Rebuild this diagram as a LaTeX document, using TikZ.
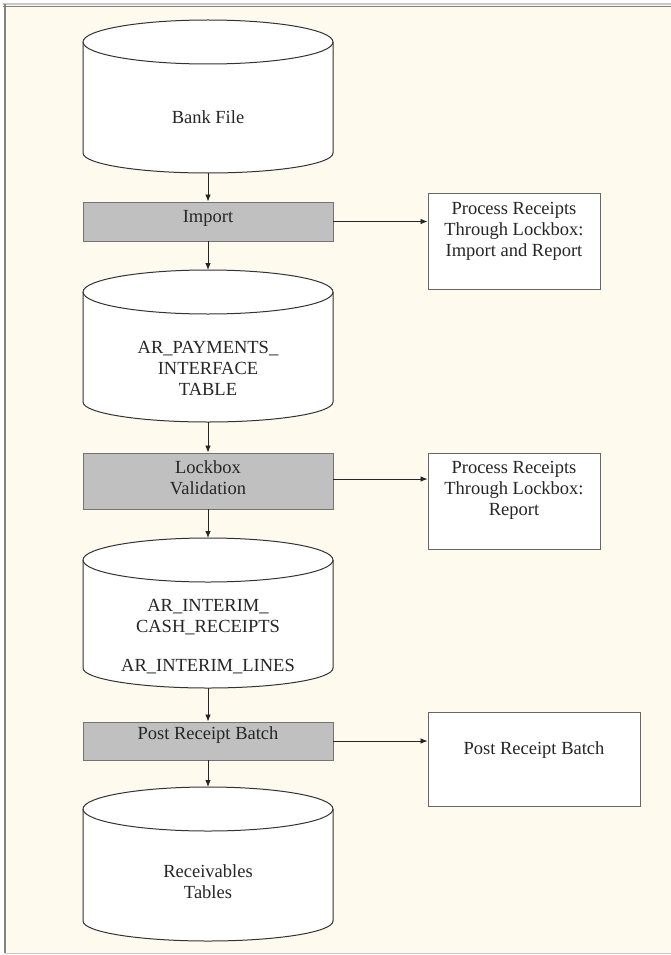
\documentclass[tikz,border=0pt]{standalone}
\usepackage{fontspec}
\setmainfont{Liberation Serif}
\usetikzlibrary{arrows.meta}
\definecolor{cream}{HTML}{FFFAEE}
\definecolor{procgray}{HTML}{C0C0C0}
\definecolor{framedark}{HTML}{7E847E}
\definecolor{framelight}{HTML}{C8C8C8}
\tikzset{
  txt/.style={font=\fontsize{18.5}{21}\selectfont, align=center, inner sep=0pt, text=black!85},
  procbox/.style={draw=black!55, fill=procgray, line width=0.9pt, minimum width=250pt, inner sep=0pt},
  outbox/.style={draw=black!60, fill=white, line width=0.9pt, inner sep=0pt},
  flow/.style={draw=black!85, line width=0.8pt, -{Latex[length=7pt,width=5.5pt]}},
  cyl/.style={draw=black!80, fill=white, line width=1pt}
}
\newcommand{\dbcyl}[4]{% name, xcenter, ytop, ybottom
  \path[cyl] (#2-125,#3+22) -- (#2-125,#4-20) arc[start angle=180,end angle=360,x radius=125pt,y radius=20pt] -- (#2+125,#3+22) arc[start angle=0,end angle=180,x radius=125pt,y radius=22pt] -- cycle;
  \draw[cyl,fill=none] (#2-125,#3+22) arc[start angle=180,end angle=360,x radius=125pt,y radius=22pt];
  \coordinate (#1-top) at (#2,#3);
  \coordinate (#1-bot) at (#2,#4);
}
\begin{document}
\begin{tikzpicture}[x=1pt,y=-1pt]
\useasboundingbox (0,0) rectangle (671,955);
\fill[white] (0,0) rectangle (671,955);
\fill[cream] (4,4) rectangle (671,953);
\draw[framelight, line width=2pt] (3,4) -- (671,4);
\draw[framedark, line width=1.6pt] (3,6.5) -- (671,6.5);
\draw[framedark, line width=2pt] (5,4) -- (5,953);
\draw[framelight, line width=1pt] (5,953) -- (671,953);

% cylinders
\dbcyl{c1}{208}{20}{173}
\dbcyl{c2}{208}{270}{422}
\dbcyl{c3}{208}{538}{688}
\dbcyl{c4}{208}{787}{941}

\node[txt] (t1) at (208,117) {Bank File};
\node[txt] (t2) at (208,368) {AR\_PAYMENTS\_\\INTERFACE\\TABLE};
\node[txt] (t3) at (208,617) {AR\_INTERIM\_\\CASH\_RECEIPTS};
\node[txt] (t3b) at (208,667) {AR\_INTERIM\_LINES};
\node[txt] (t4) at (208,882) {Receivables\\Tables};

% process boxes
\node[procbox, minimum height=39pt] (p1) at (208,221.5) {};
\node[txt] (p1t) at (208,218) {Import};
\node[procbox, minimum height=56pt] (p2) at (208,481) {};
\node[txt] (p2t) at (208,477.5) {Lockbox\\Validation};
\node[procbox, minimum height=38pt] (p3) at (208,741) {};
\node[txt] (p3t) at (208,735) {Post Receipt Batch};

% output boxes
\node[outbox, minimum width=172pt, minimum height=96pt] (r1) at (514,241) {};
\node[txt] (r1t) at (514,231) {Process Receipts\\Through Lockbox:\\Import and Report};
\node[outbox, minimum width=172pt, minimum height=96pt] (r2) at (514,501) {};
\node[txt] (r2t) at (514,490.5) {Process Receipts\\Through Lockbox:\\Report};
\node[outbox, minimum width=212pt, minimum height=94pt] (r3) at (534,759) {};
\node[txt] (r3t) at (534,750) {Post Receipt Batch};

% vertical flow
\draw[flow] (c1-bot) -- (p1.north);
\draw[flow] (p1.south) -- (c2-top);
\draw[flow] (c2-bot) -- (p2.north);
\draw[flow] (p2.south) -- (c3-top);
\draw[flow] (c3-bot) -- (p3.north);
\draw[flow] (p3.south) -- (c4-top);

% horizontal flow
\coordinate (p2e) at ([yshift=2pt]p2.east);
\draw[flow] (p1.east) -- (r1.west |- p1.east);
\draw[flow] (p2e) -- (r2.west |- p2e);
\draw[flow] (p3.east) -- (r3.west |- p3.east);
\end{tikzpicture}
\end{document}
